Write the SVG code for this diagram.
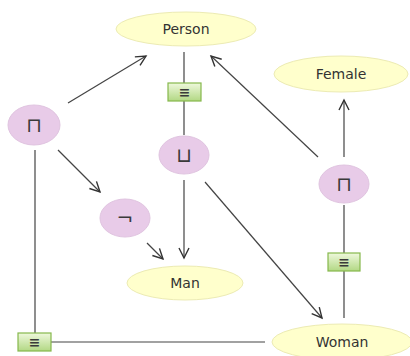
<svg xmlns="http://www.w3.org/2000/svg" width="410" height="356" viewBox="0 0 410 356">
<defs>
<marker id="arr" markerUnits="userSpaceOnUse" markerWidth="14" markerHeight="14" refX="10" refY="5" orient="auto" overflow="visible">
<path d="M0,0 L10,5 L0,10" fill="none" stroke="#333" stroke-width="1.4"/>
</marker>
<linearGradient id="g" x1="0" y1="0" x2="0" y2="1">
<stop offset="0" stop-color="#eef8dc"/>
<stop offset="1" stop-color="#b2d884"/>
</linearGradient>
<style>
.c{stroke:#444;stroke-width:1.2;fill:none}
.a{marker-end:url(#arr)}
.cls{fill:#ffffcc;stroke:#ecebb4;stroke-width:1}
.op{fill:#e8cbe8;stroke:#e0c4e0;stroke-width:1}
.eq{fill:url(#g);stroke:#86b84c;stroke-width:1.2}
.t{font-family:"DejaVu Sans",Verdana,sans-serif;font-size:14px;fill:#333;text-anchor:middle}
.s{font-family:"DejaVu Sans",sans-serif;font-size:20px;fill:#3a3a3a;text-anchor:middle}
.e{font-family:"DejaVu Sans",sans-serif;font-size:14px;font-weight:bold;fill:#3a3a3a;text-anchor:middle}
</style>
</defs>
<g id="connectors">
<line class="c a" x1="68" y1="103" x2="146" y2="56"/>
<line class="c a" x1="58" y1="150" x2="100" y2="192"/>
<line class="c a" x1="147" y1="243" x2="163" y2="259"/>
<line class="c a" x1="184" y1="180" x2="184" y2="258"/>
<line class="c a" x1="205" y1="182" x2="322" y2="318"/>
<line class="c a" x1="344" y1="157" x2="344" y2="100"/>
<line class="c a" x1="318" y1="157" x2="211" y2="56"/>
<line class="c" x1="184" y1="52" x2="184" y2="83"/>
<line class="c" x1="184" y1="101" x2="184" y2="135"/>
<line class="c" x1="35" y1="150" x2="35" y2="333"/>
<line class="c" x1="51" y1="342" x2="265" y2="342"/>
<line class="c" x1="344" y1="205" x2="344" y2="253"/>
<line class="c" x1="344" y1="271" x2="344" y2="318"/>
</g>
<g id="person"><ellipse class="cls" cx="186" cy="29" rx="70" ry="17"/><text class="t" x="186" y="34">Person</text></g>
<g id="female"><ellipse class="cls" cx="341" cy="74" rx="67" ry="18"/><text class="t" x="341" y="79">Female</text></g>
<g id="man"><ellipse class="cls" cx="185" cy="283" rx="58" ry="17"/><text class="t" x="185" y="288">Man</text></g>
<g id="woman"><ellipse class="cls" cx="342" cy="342" rx="70" ry="18"/><text class="t" x="342" y="347">Woman</text></g>
<g id="and-left"><ellipse class="op" cx="34" cy="125" rx="26" ry="20"/><text class="s" x="34" y="132">⊓</text></g>
<g id="or"><ellipse class="op" cx="184" cy="155" rx="25" ry="19"/><text class="s" x="184" y="162">⊔</text></g>
<g id="not"><ellipse class="op" cx="125" cy="218" rx="25" ry="19"/><text class="s" x="125" y="225">¬</text></g>
<g id="and-right"><ellipse class="op" cx="344" cy="184" rx="25" ry="19"/><text class="s" x="344" y="191">⊓</text></g>
<g id="eq-person"><rect class="eq" x="168" y="83" width="33" height="18"/><text class="e" x="184.5" y="97">≡</text></g>
<g id="eq-woman"><rect class="eq" x="328" y="253" width="32" height="18"/><text class="e" x="344" y="267">≡</text></g>
<g id="eq-left"><rect class="eq" x="18" y="333" width="33" height="18"/><text class="e" x="34.5" y="347">≡</text></g>
</svg>
